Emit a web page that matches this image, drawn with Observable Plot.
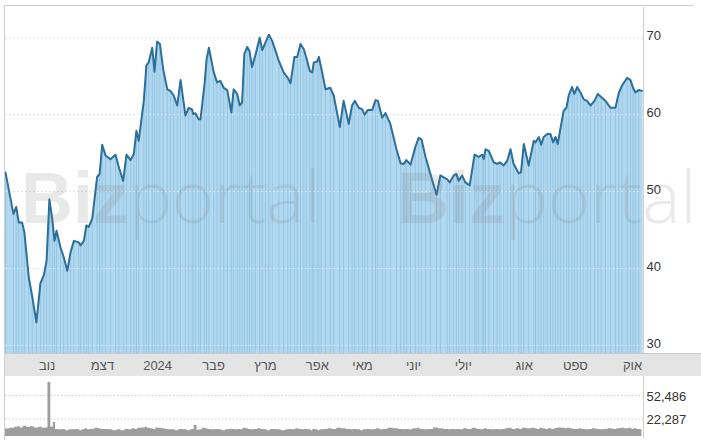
<!DOCTYPE html>
<html><head><meta charset="utf-8">
<script src="https://cdn.jsdelivr.net/npm/d3@7"></script>
<script src="https://cdn.jsdelivr.net/npm/@observablehq/plot@0.6"></script>
<style>
body{margin:0;background:#fff;font-family:"Liberation Sans",Arial,sans-serif;}
#wrap{position:relative;width:701px;height:440px;overflow:hidden;background:#fff;}
#band{position:absolute;left:4px;top:353px;width:697px;height:23px;background:#e4e4e4;border-top:1px solid #c9c9c9;box-sizing:border-box;}
.ln{position:absolute;background:#cfcfcf;}
#price,#vol{position:absolute;left:0;}
#price{top:0;} #vol{top:376px;}
#wm{position:absolute;left:0;top:0;pointer-events:none;}
</style></head><body>
<div id="wrap">
  <div id="band"></div>
  <div id="price"></div>
  <div id="vol"></div>
  <svg id="wm" width="701" height="376">
    <g fill="#7a7a7a" fill-opacity="0.17" font-size="72">
      <text x="21" y="223"><tspan font-family="Liberation Sans" font-weight="bold">Biz</tspan><tspan font-family="'Open Sans',Lato,Roboto,sans-serif" font-weight="300">portal</tspan></text>
      <text x="397" y="223"><tspan font-family="Liberation Sans" font-weight="bold">Biz</tspan><tspan font-family="'Open Sans',Lato,Roboto,sans-serif" font-weight="300">portal</tspan></text>
    </g>
  </svg>
  <div class="ln" style="left:4px;top:5px;width:690px;height:1px;"></div>
  <div class="ln" style="left:4px;top:5px;width:1px;height:435px;"></div>
  <div class="ln" style="left:643px;top:7px;width:1px;height:346px;"></div>
  <div class="ln" style="left:643px;top:376px;width:1px;height:62px;"></div>
</div>
<script>
// trading-day index of each reading (0 = first day shown)
const days = [
 0,3.1,4.2,5.2,6.5,7.4,9.1,10.5,12.1,13.7,
 15.0,16.1,17.2,18.3,19.2,20.0,21.5,22.8,24.2,25.5,
 26.8,28.7,29.4,30.7,31.7,32.6,34.0,35.9,36.9,37.9,
 39.2,41.1,43.1,44.4,46.1,47.4,49.0,50.3,51.3,52.2,
 54.2,55.2,56.1,57.5,58.4,59.4,60.5,61.8,63.4,64.6,
 65.9,67.3,68.6,70.5,71.8,73.1,73.5,74.4,75.7,76.4,
 78.0,78.8,79.7,81.6,82.9,84.2,85.5,86.9,88.5,89.4,
 90.8,91.8,92.7,93.6,94.7,95.6,96.6,97.9,99.6,100.6,
 101.9,103.2,104.5,107.1,109.0,110.6,111.7,113.2,114.3,115.6,
 116.9,117.9,119.2,120.2,120.8,122.1,122.8,123.7,125.4,127.3,
 128.6,131.0,132.5,134.5,135.8,136.9,138.4,139.8,140.7,141.9,
 143.7,145.0,145.9,147.6,148.9,150.8,153.2,154.8,156.1,157.1,
 158.7,160.6,161.9,163.0,164.6,166.5,168.9,170.4,173.1,174.1,
 175.6,176.7,177.6,178.9,180.2,181.9,183.8,184.5,185.4,186.8,
 187.4,188.1,189.4,191.3,192.6,193.7,195.2,196.6,197.9,199.1,
 201.1,202.0,203.1,205.0,207.0,207.7,209.0,209.9,210.9,212.3,
 213.5,214.6,215.5,216.4,217.4,218.7,219.8,220.7,222.0,222.9,
 224.0,225.3,226.6,227.9,229.2,230.8,232.1,233.4,235.1,237.1,
 239.0,240.3,241.6,243.6,244.9,245.9,246.8,248.1,249.4
];
const prices = [
 52.5,47.1,48.0,46.0,46.0,44.7,38.9,36.3,33.0,38.1,
 39.1,41.0,49.0,46.5,43.6,44.9,42.8,41.5,39.7,42.1,
 43.6,43.4,43.0,43.6,45.6,45.4,46.5,51.9,52.3,56.1,
 54.7,54.2,54.8,53.2,51.4,54.8,54.1,54.9,57.9,56.6,
 61.8,66.4,66.8,68.7,65.6,69.5,69.2,65.9,63.3,63.1,
 62.5,61.2,64.5,59.9,60.9,60.7,60.1,60.2,59.4,59.4,
 64.0,67.2,68.7,65.5,64.2,64.4,63.5,63.2,60.3,63.3,
 62.7,61.2,61.6,67.9,68.8,68.3,66.2,67.7,70.0,68.4,
 69.4,70.4,69.6,67.0,65.5,64.8,64.1,67.5,67.5,69.2,
 68.5,67.4,65.7,65.5,66.8,66.9,67.5,66.1,63.3,63.5,
 62.5,58.4,61.8,58.8,61.2,61.8,60.9,60.7,60.0,60.6,
 60.6,61.9,61.8,59.6,60.2,58.8,55.5,53.7,53.6,54.1,
 53.5,55.8,57.0,56.8,54.5,52.3,49.6,52.1,51.6,51.2,
 52.1,52.3,51.4,52.1,51.2,50.8,54.8,54.7,54.5,54.8,
 54.25,55.5,55.3,53.8,53.6,53.8,53.4,54.0,55.5,53.6,
 52.4,52.5,56.2,53.4,56.6,56.4,57.1,56.1,57.1,57.5,
 57.5,56.4,57.1,56.2,58.1,60.5,60.9,62.5,63.6,62.7,
 63.6,62.9,62.0,61.8,61.2,61.8,62.7,62.3,61.8,60.9,
 60.9,62.8,63.8,64.8,64.5,63.5,62.9,63.2,63.1
];
const volumes = [
 9500,10500,12000,12500,11000,13000,12000,12500,11000,12000,
 10500,11000,69000,12000,18000,9000,8500,9000,7500,8500,
 8500,9000,7500,8500,10000,8500,9000,10500,10000,9000,
 9000,8500,7500,8500,7500,9000,8500,10000,9000,10500,
 11000,12000,10500,10000,9000,11000,10500,10000,9000,8500,
 8500,7500,9000,8500,7500,8500,9000,14000,8000,8500,
 10500,10000,9000,8500,9000,8500,7500,8500,9000,9000,
 8500,9000,8500,10500,10000,9000,8500,9000,10000,9000,
 8500,7500,9000,8500,7500,8500,9000,8500,10000,9000,
 8500,9000,8500,7500,9000,8500,7500,8500,9000,10000,
 9000,10500,10000,9000,8500,9000,8500,7500,8500,9000,
 8500,9000,10000,8500,9000,10500,10000,9000,8500,9000,
 8500,10000,10500,9000,8500,9000,11000,10000,9000,8500,
 9000,8500,9000,8500,10000,9000,10500,10000,9000,8500,
 9000,10000,9000,8500,9000,8500,9000,10000,10500,9000,
 10000,9000,10500,10000,10500,10000,9000,10500,10000,9000,
 10000,9000,10000,10500,11000,10500,10000,10500,10000,9000,
 9000,10000,9000,8500,9000,10000,9000,8500,9000,10000,
 9000,10000,10500,10000,10500,9000,10000,9000,8500
];
const monthTicks = [16.3,38.0,59.6,81.5,101.9,122.2,139.9,159.9,179.4,203.3,223.3,245.7];
const monthLabels = ["נוב","דצמ","2024","פבר","מרץ","אפר","מאי","יוני","יולי","אוג","ספט","אוק"];
const priceTicks = [30,40,50,60,70];
const volumeTicks = [22287,52486];

const data = days.map((d,i)=>({day:d, price:prices[i], vol:volumes[i] ?? 0}));
const labelOf = new Map(monthTicks.map((t,i)=>[t, monthLabels[i]]));
const xDomain = [0, 250];
const yDomain = [28.95, 74.2];
const font = "'Liberation Sans', Arial, sans-serif";

const price = Plot.plot({
  width: 701, height: 376,
  marginTop: 5, marginBottom: 23, marginLeft: 5, marginRight: 58,
  style: {background: "transparent", fontFamily: font, fontSize: "13px", color: "#333"},
  x: {domain: xDomain},
  y: {domain: yDomain},
  marks: [
    Plot.areaY(data, {x: "day", y1: yDomain[0], y2: "price", fill: "#b2d8ef", clip: true}),
    Plot.ruleX(data, {x: "day", y1: yDomain[0], y2: "price", stroke: "#94c6e4", strokeWidth: 1, clip: true}),
    Plot.gridY(priceTicks, {stroke: "#d6e3ee", strokeOpacity: 1, strokeDasharray: "2,2"}),
    Plot.lineY(data, {x: "day", y: "price", stroke: "#2c6f9b", strokeWidth: 2, strokeLinejoin: "round"}),
    Plot.axisY({anchor: "right", ticks: priceTicks, tickSize: 0, tickPadding: 3, dy: -2, label: null, fill: "#333"}),
    Plot.axisX({ticks: monthTicks, tickFormat: d => labelOf.get(d), tickSize: 0, tickPadding: 7, label: null, fill: "#555"})
  ]
});
document.getElementById("price").appendChild(price);

const vol = Plot.plot({
  width: 701, height: 64,
  marginTop: 0, marginBottom: 4, marginLeft: 5, marginRight: 58,
  style: {background: "transparent", fontFamily: font, fontSize: "13px", color: "#333"},
  x: {domain: xDomain, axis: null},
  y: {domain: [0, 76800]},
  marks: [
    Plot.gridY(volumeTicks, {stroke: "#cccccc", strokeOpacity: 1, strokeDasharray: "1.5,2"}),
    Plot.areaY(data, {x: "day", y: "vol", curve: "step", fill: "#9d9d9d"}),
    Plot.axisY({anchor: "right", ticks: volumeTicks, tickSize: 0, tickPadding: 3, dy: 1, tickFormat: d3.format(","), label: null, fill: "#333"})
  ]
});
document.getElementById("vol").appendChild(vol);
</script>
</body></html>
